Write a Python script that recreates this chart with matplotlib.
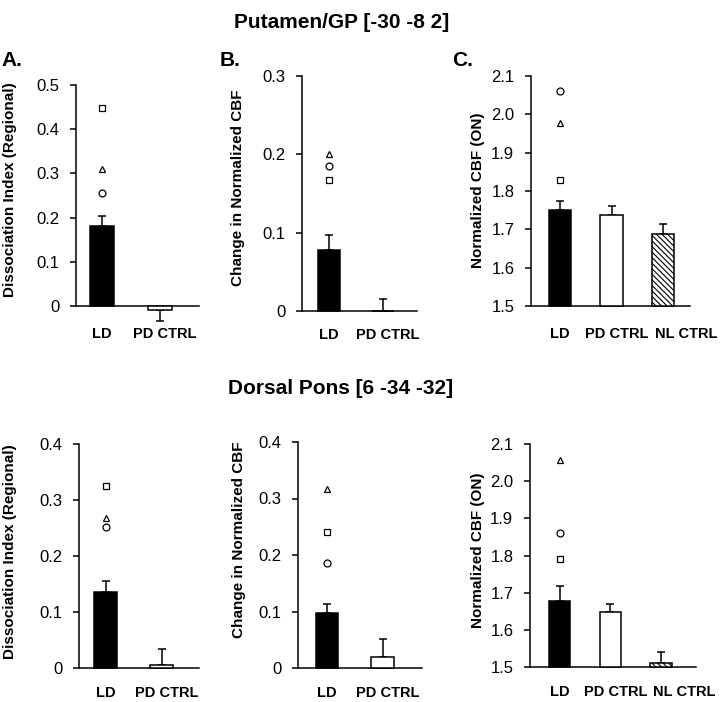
import numpy as np
import matplotlib
matplotlib.use('Agg')
import matplotlib.pyplot as plt
from matplotlib.transforms import ScaledTranslation

plt.rcParams['font.family'] = ['Liberation Sans', 'DejaVu Sans']
plt.rcParams['hatch.color'] = '#888888'
plt.rcParams['hatch.linewidth'] = 0.8

W, H = 720, 702

# ---- data ----
cats2 = ['LD', 'PD CTRL']
cats3 = ['LD', 'PD CTRL', 'NL CTRL']

# top row: Putamen/GP [-30 -8 2]
a_means = [0.180, -0.009]
a_sems = [0.023, 0.024]
a_pts = {'s': 0.447, '^': 0.310, 'o': 0.255}

b_means = [0.078, 0.0]
b_sems = [0.019, 0.015]
b_pts = {'^': 0.200, 'o': 0.185, 's': 0.167}

c_means = [1.750, 1.738, 1.688]
c_sems = [0.024, 0.022, 0.026]
c_pts = {'o': 2.060, '^': 1.978, 's': 1.830}

# bottom row: Dorsal Pons [6 -34 -32]
d_means = [0.136, 0.005]
d_sems = [0.019, 0.029]
d_pts = {'s': 0.325, '^': 0.268, 'o': 0.252}

e_means = [0.098, 0.020]
e_sems = [0.016, 0.031]
e_pts = {'^': 0.317, 's': 0.240, 'o': 0.185}

f_means = [1.678, 1.648, 1.510]
f_sems = [0.041, 0.021, 0.030]
f_pts = {'^': 2.057, 'o': 1.860, 's': 1.790}

ticks_a = [0, 0.1, 0.2, 0.3, 0.4, 0.5]
ticks_b = [0, 0.1, 0.2, 0.3]
ticks_d = [0, 0.1, 0.2, 0.3, 0.4]
ticks_c = [1.5, 1.6, 1.7, 1.8, 1.9, 2.0, 2.1]

lab_di = 'Dissociation Index (Regional)'
lab_ch = 'Change in Normalized CBF'
lab_on = 'Normalized CBF (ON)'


def rect(l, t, r, b):
    return [l / W, 1 - b / H, (r - l) / W, (b - t) / H]


def tick_fmt(v):
    return '0' if v == 0 else ('%.1f' % v)


fig = plt.figure(figsize=(7.2, 7.02), dpi=100)


def panel(box, xlim, cats, means, sems, pts, ticks, base, label_pad):
    ax = fig.add_axes(rect(*box))
    x = np.arange(len(cats))
    colors = ['black', 'white', 'white']
    hatches = [None, None, '\\\\\\\\\\\\']
    width = 0.41 if len(cats) == 2 else 0.43
    for i in range(len(cats)):
        h = means[i] - base
        ax.bar(x[i], h, bottom=base, width=width, color=colors[i],
               edgecolor='black', linewidth=1.1, hatch=hatches[i],
               clip_on=False, zorder=3)
        if means[i] >= base:
            yerr = [[0], [sems[i]]]
        else:
            yerr = [[sems[i]], [0]]
        ax.errorbar(x[i], means[i], yerr=yerr, fmt='none', ecolor='black',
                    elinewidth=1.1, capsize=3, capthick=1.1,
                    clip_on=False, zorder=2)
    for m, v in pts.items():
        ax.plot(x[0], v, marker=m, markersize=5 if m != 's' else 4.8,
                mfc='white', mec='black', mew=0.9, linestyle='none',
                zorder=4)
    ax.set_xlim(*xlim)
    ax.set_ylim(ticks[0], ticks[-1])
    ax.set_yticks(ticks)
    ax.set_yticklabels([tick_fmt(t) for t in ticks], fontsize=12)
    ax.set_xticks(x)
    ax.set_xticklabels(cats, fontsize=10.5, fontweight='bold')
    ax.tick_params(axis='x', length=0, pad=label_pad)
    ax.tick_params(axis='y', direction='out', length=4, width=1.1, pad=8)
    offsets = [0, 5, 23]
    for lbl, off in zip(ax.get_xticklabels(), offsets):
        lbl.set_transform(lbl.get_transform() +
                          ScaledTranslation(off / 100, 0, fig.dpi_scale_trans))
    for s in ['top', 'right']:
        ax.spines[s].set_visible(False)
    for s in ['left', 'bottom']:
        ax.spines[s].set_linewidth(1.1)
    return ax


panel((76, 85, 199, 306), (-0.45, 1.67), cats2, a_means, a_sems, a_pts, ticks_a, 0, 15)
panel((302, 76, 417, 311), (-0.50, 1.63), cats2, b_means, b_sems, b_pts, ticks_b, 0, 12)
panel((531, 76, 690, 306), (-0.56, 2.52), cats3, c_means, c_sems, c_pts, ticks_c, 1.5, 15)
panel((79, 444, 199, 668), (-0.48, 1.66), cats2, d_means, d_sems, d_pts, ticks_d, 0, 13)
panel((298, 442, 422, 668), (-0.52, 1.71), cats2, e_means, e_sems, e_pts, ticks_d, 0, 13)
panel((530, 444, 696, 667), (-0.58, 2.68), cats3, f_means, f_sems, f_pts, ticks_c, 1.5, 13)


def ftext(xp, yp, s, **kw):
    fig.text(xp / W, 1 - yp / H, s, **kw)


title_font = ['Liberation Sans', 'DejaVu Sans']
ftext(342, 22, 'Putamen/GP [-30 -8 2]', ha='center', va='center',
      fontsize=15, fontweight='bold', family=title_font)
ftext(341, 388, 'Dorsal Pons [6 -34 -32]', ha='center', va='center',
      fontsize=15, fontweight='bold', family=title_font)
for xp, s in [(1, 'A.'), (220, 'B.'), (452, 'C.')]:
    ftext(xp, 60, s, ha='left', va='center', fontsize=15,
          fontweight='bold', family=title_font)

for xp, yp, s in [(10, 190, lab_di), (238, 188, lab_ch), (478, 190, lab_on),
                  (10, 552, lab_di), (239, 540, lab_ch), (478, 550, lab_on)]:
    ftext(xp, yp, s, ha='center', va='center', rotation=90,
          fontsize=11, fontweight='bold')

fig.savefig('out.png', dpi=100)
